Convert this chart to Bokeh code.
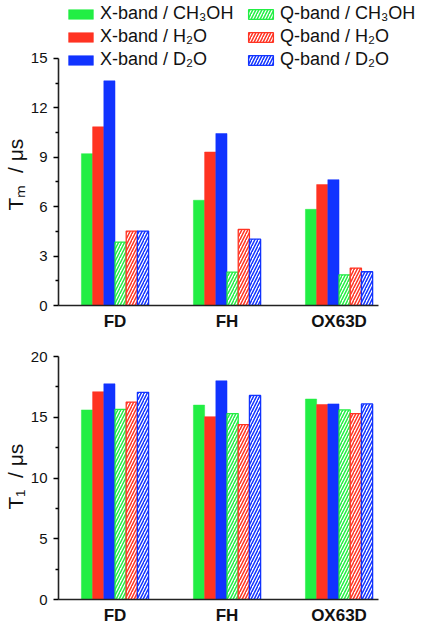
from bokeh.plotting import figure
from bokeh.models import Legend, LegendItem, FixedTicker, Range1d, Title
from bokeh.layouts import column
from bokeh.embed import file_html
from bokeh.resources import INLINE

categories = ["FD", "FH", "OX63D"]
series_labels = ["X-band / CH₃OH", "X-band / H₂O", "X-band / D₂O",
                 "Q-band / CH₃OH", "Q-band / H₂O", "Q-band / D₂O"]
series_colors = ["#22ee44", "#ff3322", "#1133ff", "#22ee44", "#ff3322", "#1133ff"]
series_hatched = [False, False, False, True, True, True]

# T_m (µs)
tm_x_ch3oh = [9.22, 6.39, 5.84]
tm_x_h2o = [10.85, 9.32, 7.34]
tm_x_d2o = [13.64, 10.44, 7.64]
tm_q_ch3oh = [3.85, 2.03, 1.86]
tm_q_h2o = [4.52, 4.62, 2.27]
tm_q_d2o = [4.52, 4.03, 2.05]

# T_1 (µs)
t1_x_ch3oh = [15.6, 16.0, 16.5]
t1_x_h2o = [17.1, 15.05, 16.05]
t1_x_d2o = [17.75, 18.0, 16.1]
t1_q_ch3oh = [15.65, 15.3, 15.6]
t1_q_h2o = [16.25, 14.4, 15.3]
t1_q_d2o = [17.05, 16.8, 16.1]

tm_ticks = [0, 3, 6, 9, 12, 15]
t1_ticks = [0, 5, 10, 15, 20]

FONT = "Liberation Sans"
BAR_W = 0.1
OFFSETS = [-0.25, -0.15, -0.05, 0.05, 0.15, 0.25]
X_START, X_END, X_AXIS_END = -0.5045, 2.772, 2.353


def make_plot(series_values, ticks, y_end, ylabel, label_offset, height, top_border, bottom_border):
    p = figure(width=425, height=height, output_backend="svg", toolbar_location=None,
               x_range=Range1d(X_START, X_END), y_range=Range1d(0, y_end),
               min_border_left=58, min_border_right=0,
               min_border_top=top_border, min_border_bottom=bottom_border)
    p.outline_line_color = None
    p.xgrid.visible = False
    p.ygrid.visible = False
    xs = list(range(len(categories)))
    renderers = []
    for vals, off, col, hat in zip(series_values, OFFSETS, series_colors, series_hatched):
        x = [i + off for i in xs]
        if hat:
            r = p.vbar(x=x, top=vals, width=BAR_W, bottom=0, fill_color="white",
                       line_color=col, line_width=1.3, hatch_pattern="/",
                       hatch_color=col, hatch_scale=6, hatch_weight=1.5)
        else:
            r = p.vbar(x=x, top=vals, width=BAR_W, bottom=0, fill_color=col,
                       line_color=col, line_width=0.5)
        renderers.append(r)

    xa = p.xaxis[0]
    xa.ticker = FixedTicker(ticks=xs)
    xa.major_label_overrides = {i: c for i, c in enumerate(categories)}
    xa.major_tick_out = 0
    xa.major_tick_in = 0
    xa.minor_tick_out = 0
    xa.minor_tick_in = 0
    xa.bounds = (X_START, X_AXIS_END)
    xa.axis_line_width = 1.6
    xa.axis_line_color = "#222222"
    xa.major_label_text_font = FONT
    xa.major_label_text_font_style = "bold"
    xa.major_label_text_font_size = "17px"
    xa.major_label_text_line_height = 1.0
    xa.major_label_text_color = "#111111"
    xa.major_label_standoff = 6

    ya = p.yaxis[0]
    minors = [(a + b) / 2 for a, b in zip(ticks, ticks[1:])]
    ya.ticker = FixedTicker(ticks=ticks, minor_ticks=minors)
    ya.bounds = (ticks[0], ticks[-1])
    ya.major_tick_out = 5
    ya.major_tick_in = 0
    ya.minor_tick_out = 3
    ya.minor_tick_in = 0
    ya.axis_line_width = 1.6
    ya.axis_line_color = "#222222"
    ya.major_tick_line_width = 1.3
    ya.minor_tick_line_width = 1.3
    ya.major_label_text_font = FONT
    ya.major_label_text_font_size = "15px"
    ya.major_label_text_color = "#111111"
    ya.major_label_standoff = 6

    p.add_layout(Title(text=ylabel, align="left", offset=label_offset,
                       text_font=FONT, text_font_size="21px",
                       text_font_style="normal", text_color="#111111",
                       standoff=2), "left")
    return p, renderers


p1, rs = make_plot([tm_x_ch3oh, tm_x_h2o, tm_x_d2o, tm_q_ch3oh, tm_q_h2o, tm_q_d2o],
                   tm_ticks, 18.52, "Tₘ\u00a0 / μs", 95, 340, 0, 35)

for cols, loc in (([0, 1, 2], (7, 235)), ([3, 4, 5], (187, 235))):
    leg = Legend(items=[LegendItem(label=series_labels[i], renderers=[rs[i]]) for i in cols],
                 location=loc, orientation="vertical", padding=0, margin=0, spacing=2,
                 glyph_width=31, glyph_height=12, label_height=17, label_standoff=4,
                 label_text_font=FONT, label_text_font_size="18px",
                 label_text_color="#111111", border_line_color=None,
                 background_fill_alpha=0)
    p1.add_layout(leg)

p2, _ = make_plot([t1_x_ch3oh, t1_x_h2o, t1_x_d2o, t1_q_ch3oh, t1_q_h2o, t1_q_d2o],
                  t1_ticks, 20, "T₁\u00a0 / μs", 90, 287, 16, 25)

layout = column(p1, p2, spacing=0)
open("out.html", "w").write(file_html(layout, INLINE))
